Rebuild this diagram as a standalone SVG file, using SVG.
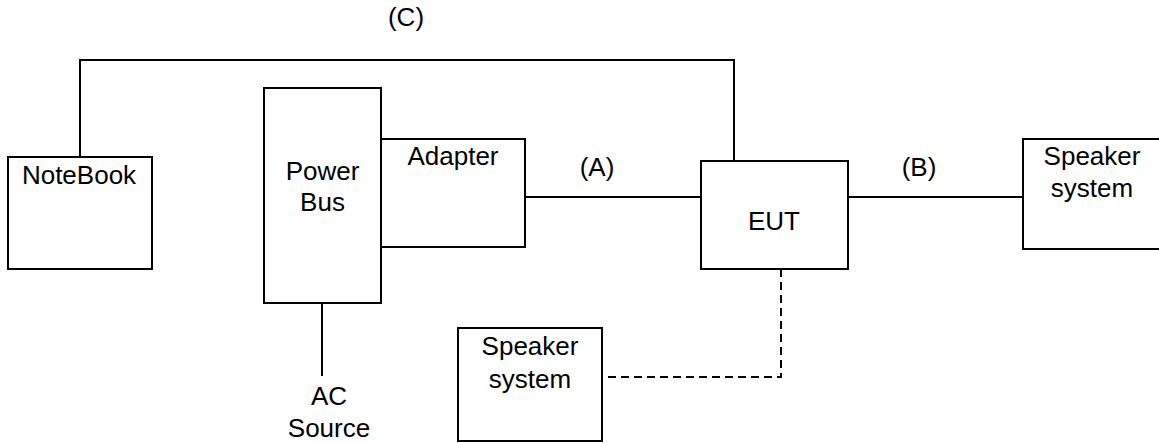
<svg xmlns="http://www.w3.org/2000/svg" width="1159" height="443" viewBox="0 0 1159 443">
<style>
.box{fill:#fff;stroke:#000;stroke-width:2}
.ln{fill:none;stroke:#000;stroke-width:2}
.dash{fill:none;stroke:#000;stroke-width:2;stroke-dasharray:8 5}
text{font-family:"Liberation Sans",Arial,sans-serif;font-size:26px;fill:#000;text-anchor:middle}
</style>
<rect width="1159" height="443" fill="#fff"/>
<g id="connectors">
<polyline class="ln" points="80,157 80,60 734,60 734,161"/>
<line class="ln" x1="525" y1="197" x2="701" y2="197"/>
<line class="ln" x1="848" y1="197" x2="1023" y2="197"/>
<line class="ln" x1="322" y1="303" x2="322" y2="376"/>
<polyline class="dash" points="781,269 781,377 602,377"/>
</g>
<g id="label-C"><text x="406" y="26">(C)</text></g>
<g id="label-A"><text x="597" y="176">(A)</text></g>
<g id="label-B"><text x="919" y="176">(B)</text></g>
<g id="notebook">
<rect class="box" x="8" y="157" width="144" height="112"/>
<text x="79" y="184">NoteBook</text>
</g>
<g id="powerbus">
<rect class="box" x="264" y="88" width="117" height="215"/>
<text x="322.5" y="180">Power</text>
<text x="322.5" y="211">Bus</text>
</g>
<g id="adapter">
<rect class="box" x="381" y="139" width="144" height="108"/>
<text x="453" y="165">Adapter</text>
</g>
<g id="eut">
<rect class="box" x="701" y="161" width="147" height="108"/>
<text x="774" y="230">EUT</text>
</g>
<g id="speaker-right">
<rect class="box" x="1023" y="139" width="150" height="110"/>
<text x="1092" y="165">Speaker</text>
<text x="1092" y="197">system</text>
</g>
<g id="speaker-bottom">
<rect class="box" x="458" y="328" width="144" height="113"/>
<text x="530" y="355">Speaker</text>
<text x="530" y="388">system</text>
</g>
<g id="ac-source">
<text x="329" y="405">AC</text>
<text x="329" y="437">Source</text>
</g>
</svg>
